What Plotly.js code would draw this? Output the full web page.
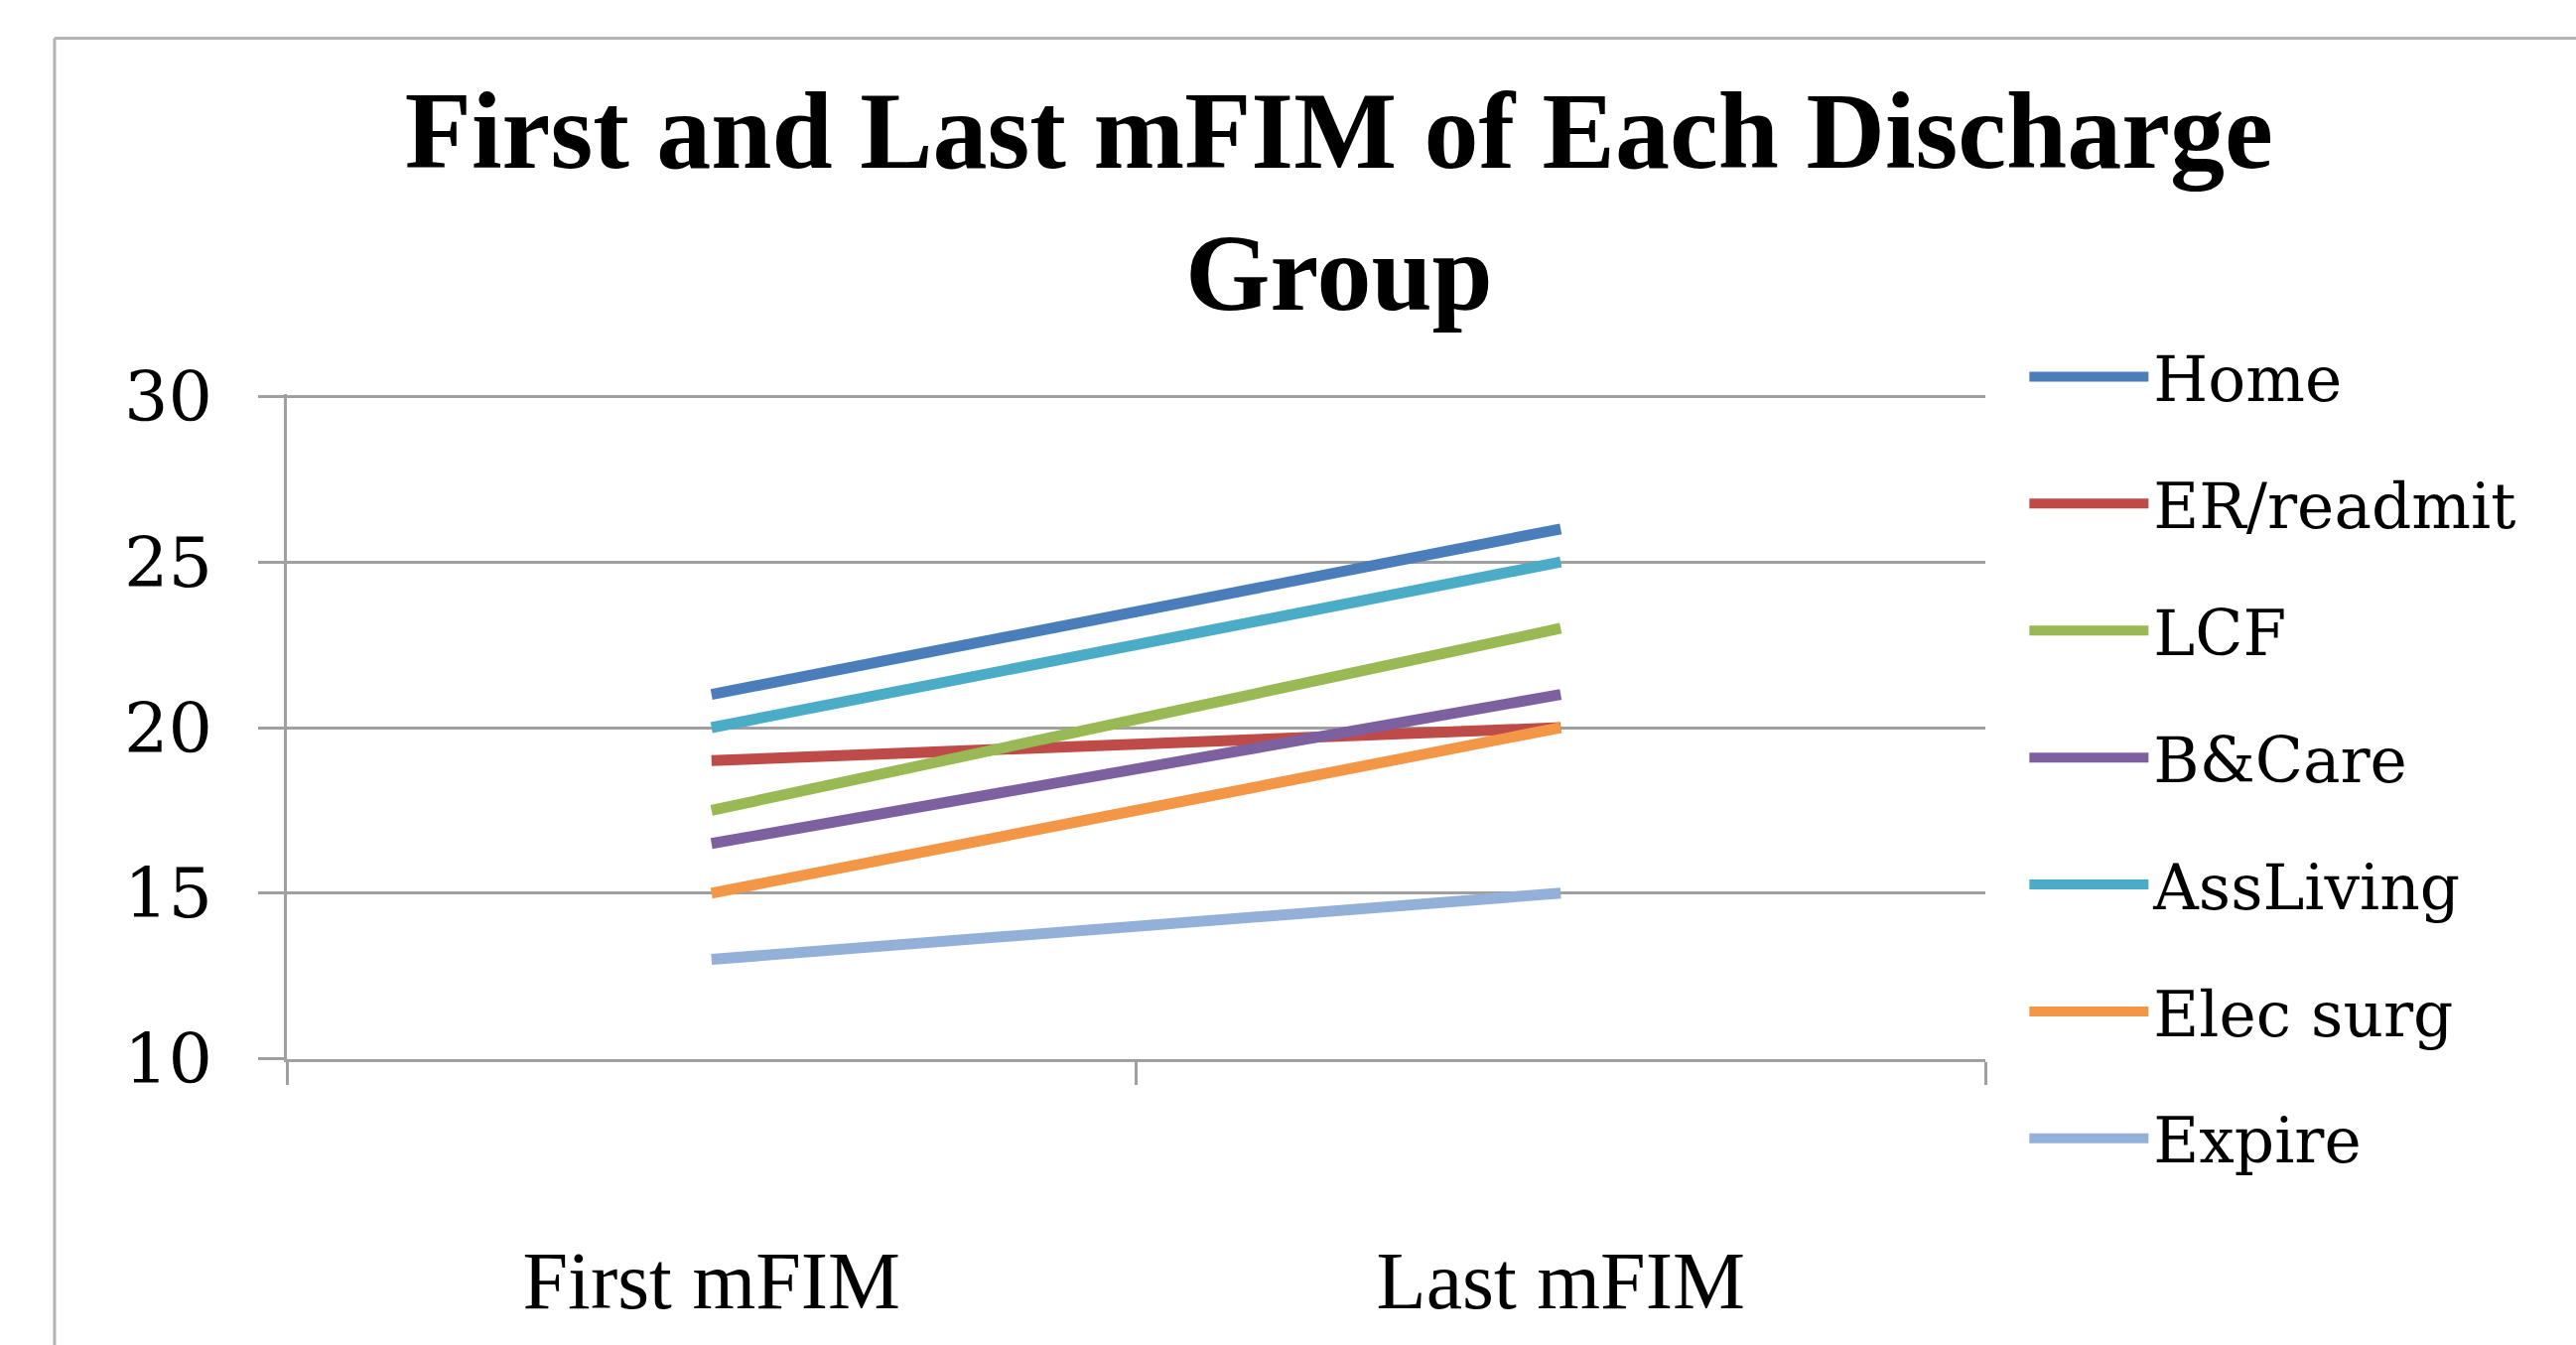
<!DOCTYPE html>
<html>
<head>
<meta charset="utf-8">
<script src="https://cdn.plot.ly/plotly-3.0.1.min.js"></script>
<style>html,body{margin:0;padding:0;background:#fff;}#chart{width:2595px;height:1355px;}</style>
</head>
<body>
<div id="chart"></div>
<script>
const categories = ["First mFIM", "Last mFIM"];
const seriesNames = ["Home", "ER/readmit", "LCF", "B&Care", "AssLiving", "Elec surg", "Expire"];
const home = [21, 26];
const erReadmit = [19, 20];
const lcf = [17.5, 23];
const bCare = [16.5, 21];
const assLiving = [20, 25];
const elecSurg = [15, 20];
const expire = [13, 15];
const yTicks = [10, 15, 20, 25, 30];
const colors = ["#4A7EBB", "#BE4B48", "#98B954", "#7D60A0", "#4AACC6", "#F39646", "#93B1D8"];

const seriesValues = [home, erReadmit, lcf, bCare, assLiving, elecSurg, expire];
const traces = seriesNames.map((name, i) => ({
  type: "scatter",
  mode: "lines",
  name: name,
  x: categories,
  y: seriesValues[i],
  legendgroup: "g" + i,
  line: {color: colors[i], width: 11},
  hoverinfo: "skip"
}));

const gray = "#a0a0a0";
const layout = {
  width: 2595,
  height: 1355,
  paper_bgcolor: "#ffffff",
  plot_bgcolor: "#ffffff",
  margin: {l: 289, r: 595, t: 397, b: 288},
  title: {
    text: "First and Last mFIM of Each Discharge<br>Group",
    font: {family: "Liberation Serif", size: 110, color: "#000000", weight: "bold"},
    x: 0.5198, xanchor: "center", xref: "container",
    y: 0.8754, yanchor: "middle", yref: "container"
  },
  xaxis: {
    type: "category",
    range: [-0.5, 1.5],
    showgrid: false,
    showline: true, linecolor: gray, linewidth: 3,
    ticks: "outside", tickson: "boundaries", ticklen: 23, tickwidth: 3, tickcolor: gray,
    tickfont: {family: "Liberation Serif", size: 82, color: "#000000"},
    ticklabelstandoff: 150,
    fixedrange: true
  },
  yaxis: {
    range: [9.99, 30.07],
    tickvals: yTicks,
    ticktext: yTicks.map(String),
    showgrid: true, gridcolor: gray, gridwidth: 3,
    zeroline: false,
    showline: true, linecolor: gray, linewidth: 3,
    ticks: "outside", ticklen: 26, tickwidth: 3, tickcolor: gray,
    tickfont: {family: "DejaVu Serif", size: 70, color: "#000000"},
    ticklabelstandoff: 32,
    fixedrange: true
  },
  showlegend: true,
  legend: {
    x: 1.023, xanchor: "left", xref: "paper",
    y: 1.097, yanchor: "top", yref: "paper",
    traceorder: "grouped",
    tracegroupgap: 43,
    itemwidth: 120,
    maxheight: 1300,
    font: {family: "DejaVu Serif", size: 63, color: "#000000"},
    bgcolor: "rgba(0,0,0,0)"
  },
  shapes: [
    {type: "line", xref: "paper", yref: "paper", x0: -0.1368, x1: 1.4, y0: 1.535, y1: 1.535,
     line: {color: "#b3b3b3", width: 3}},
    {type: "line", xref: "paper", yref: "paper", x0: -0.1368, x1: -0.1368, y0: 1.535, y1: -0.5,
     line: {color: "#b3b3b3", width: 3}}
  ]
};

Plotly.newPlot("chart", traces, layout, {displayModeBar: false, staticPlot: true});
</script>
</body>
</html>
